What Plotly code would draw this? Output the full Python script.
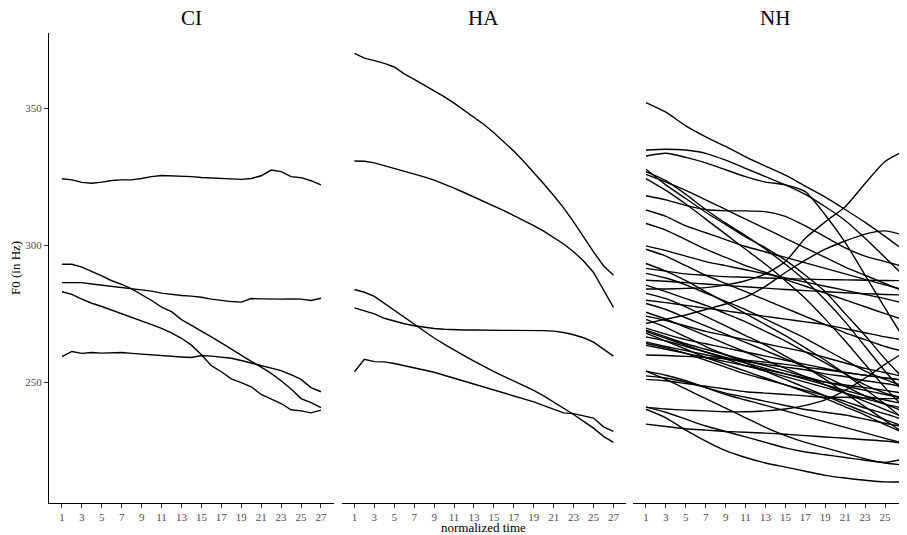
import plotly.graph_objects as go

# ---------------- data ----------------
time_full = list(range(1, 28))
time_odd = list(range(1, 28, 2))
tick_vals = list(range(1, 28, 2))
y_ticks = [250, 300, 350]
panels = ["CI", "HA", "NH"]

ci_lines = [
    [324.2, 323.8, 322.9, 322.6, 323.0, 323.6, 323.8, 323.8, 324.3, 325.0, 325.4, 325.3, 325.2, 325.0,
     324.7, 324.5, 324.3, 324.2, 324.0, 324.3, 325.3, 327.4, 326.8, 325.0, 324.6, 323.5, 322.0],
    [293.0, 293.0, 292.0, 290.5, 288.8, 287.0, 285.7, 284.0, 282.0, 279.8, 277.4, 275.7, 272.8, 270.8,
     268.7, 266.5, 264.3, 262.0, 259.8, 257.6, 255.5, 253.2, 250.5, 247.5, 244.0, 242.5, 240.7],
    [286.3, 286.2, 286.3, 285.8, 285.4, 285.0, 284.6, 284.2, 283.8, 283.2, 282.5, 282.0, 281.6, 281.4,
     281.0, 280.3, 279.8, 279.4, 279.2, 280.5, 280.4, 280.3, 280.3, 280.4, 280.3, 279.8, 280.6],
    [283.0, 282.0, 280.3, 278.8, 277.6, 276.3, 275.0, 273.8, 272.5, 271.0, 269.6, 268.0, 266.0, 263.5,
     260.0, 256.0, 253.8, 251.2, 249.8, 248.3, 245.5, 243.8, 242.2, 239.9, 239.5, 238.8, 239.8],
    [259.3, 261.2, 260.5, 260.8, 260.6, 260.8, 260.8, 260.5, 260.2, 259.9, 259.6, 259.4, 259.2, 259.0,
     259.7, 259.5, 259.2, 258.7, 257.9, 257.0, 256.0, 255.2, 254.2, 252.7, 251.0, 248.0, 246.5],
]

ha_lines = [
    [370.0, 368.2, 367.3, 366.3, 365.0, 362.5, 360.5, 358.5, 356.5, 354.2, 351.8, 349.3, 346.8, 344.0,
     341.0, 337.8, 334.3, 330.5, 326.6, 322.4, 318.1, 313.6, 308.5, 303.0, 297.5, 292.5, 289.0],
    [330.7, 330.6, 330.0, 329.0, 328.0, 327.0, 326.0, 324.9, 323.7, 322.3, 320.8, 319.2, 317.6, 316.0,
     314.3, 312.6, 310.8, 309.0, 307.1, 305.1, 302.9, 300.4, 297.6, 294.2, 290.0, 283.6, 277.3],
    [283.8, 282.8, 281.3, 278.8, 276.3, 273.6, 271.0, 268.5, 266.1, 263.9, 261.7, 259.7, 257.7, 255.7,
     253.8, 252.1, 250.4, 248.8, 247.0, 245.0, 242.8, 240.5, 238.2, 235.7, 233.2, 230.2, 228.0],
    [277.1, 276.0, 274.9, 273.3, 272.2, 271.3, 270.6, 270.0, 269.6, 269.3, 269.1, 269.0, 269.0, 268.9,
     268.9, 268.9, 268.9, 268.9, 268.9, 268.8, 268.6, 268.1, 267.3, 266.2, 264.6, 262.0, 259.5],
    [253.8, 258.3, 257.5, 257.4, 256.8, 256.0, 255.2, 254.6, 253.6, 252.5, 251.4, 250.3, 249.3, 248.2,
     247.1, 246.1, 245.0, 243.9, 242.8, 241.4, 240.0, 238.8, 238.5, 237.8, 236.9, 233.7, 232.0],
]

# NH values read at odd time points 1,3,...,27
nh_lines = [
    [352.0, 348.5, 343.5, 339.5, 336.0, 332.2, 328.8, 325.5, 321.5, 317.5, 313.0, 308.3, 303.2, 297.8],
    [334.7, 335.0, 334.7, 333.5, 331.0, 328.0, 325.0, 322.0, 318.5, 314.0, 309.0, 302.5, 295.5, 288.4],
    [332.5, 333.5, 332.0, 330.0, 327.5, 325.0, 323.0, 322.0, 319.5, 311.0, 301.0, 289.0, 277.0, 265.3],
    [327.7, 322.0, 317.0, 312.0, 307.5, 303.0, 299.0, 294.5, 289.0, 283.0, 275.0, 267.0, 258.5, 250.7],
    [326.8, 323.5, 318.5, 313.0, 308.0, 303.5, 298.5, 293.0, 287.0, 280.0, 272.0, 263.0, 254.0, 245.9],
    [325.8, 323.0, 320.0, 316.5, 313.0, 309.5, 306.0, 302.5, 299.0, 295.5, 292.0, 289.0, 286.0, 283.0],
    [324.3, 320.0, 315.0, 309.5, 304.0, 298.5, 293.0, 287.0, 280.5, 273.0, 265.0, 256.5, 248.0, 240.4],
    [318.0, 316.5, 314.5, 313.0, 312.5, 312.5, 312.2, 310.5, 307.0, 303.0, 299.0, 296.0, 294.0, 292.1],
    [312.8, 310.5, 307.0, 304.5, 302.0, 299.5, 297.5, 295.5, 293.5, 291.5, 289.5, 287.5, 285.5, 283.6],
    [307.9, 305.5, 302.0, 298.5, 295.5, 292.5, 290.0, 287.5, 285.0, 282.5, 280.0, 277.5, 275.0, 272.6],
    [299.7, 298.0, 296.0, 294.0, 292.5, 291.0, 289.5, 288.0, 286.5, 285.0, 283.5, 282.0, 280.5, 278.7],
    [298.5, 296.0, 292.5, 289.0, 286.0, 283.0, 280.0, 277.0, 274.0, 271.0, 268.0, 265.5, 263.0, 261.1],
    [293.3, 290.5, 287.0, 283.0, 279.0, 275.0, 271.0, 267.0, 262.5, 258.0, 253.0, 247.5, 242.0, 236.1],
    [291.5, 290.5, 289.5, 289.0, 288.5, 288.3, 288.0, 287.8, 287.6, 287.4, 287.3, 287.2, 287.1, 287.0],
    [289.7, 288.0, 285.5, 282.5, 279.5, 276.5, 273.0, 269.5, 266.0, 262.0, 258.0, 254.0, 251.0, 248.3],
    [287.2, 286.8, 286.3, 285.8, 285.3, 284.8, 284.3, 283.8, 283.4, 283.0, 282.6, 282.3, 282.0, 281.8],
    [285.4, 283.0, 280.5, 278.0, 275.0, 272.0, 268.5, 265.0, 261.0, 257.0, 253.0, 249.0, 246.0, 244.0],
    [284.0, 284.0, 284.2, 284.5, 285.5, 287.0, 289.5, 294.0, 302.5, 308.5, 314.0, 322.5, 330.5, 334.5],
    [282.4, 280.5, 277.5, 274.0, 270.5, 267.0, 263.5, 259.5, 255.5, 251.0, 246.0, 241.0, 236.0, 231.3],
    [279.9, 279.0, 278.0, 277.0, 276.0, 275.0, 274.0, 273.0, 272.0, 271.0, 269.5, 268.0, 266.5, 265.3],
    [278.7, 276.5, 273.5, 270.5, 267.5, 264.5, 261.5, 258.5, 255.5, 252.0, 248.5, 245.0, 242.0, 239.2],
    [271.4, 273.0, 274.5, 276.5, 278.5, 281.0, 285.0, 290.0, 294.5, 298.5, 301.5, 304.0, 305.2, 303.5],
    [274.1, 272.5, 270.5, 268.5, 267.0, 265.5, 264.0, 262.5, 261.0, 259.0, 257.0, 255.0, 253.5, 251.9],
    [272.9, 270.0, 266.5, 263.0, 260.0, 257.0, 254.0, 251.0, 248.0, 245.0, 242.0, 239.0, 236.3, 233.7],
    [269.7, 267.5, 265.5, 264.0, 262.5, 261.0, 259.5, 258.0, 256.5, 255.0, 253.5, 252.5, 251.5, 250.7],
    [269.0, 266.5, 264.0, 262.0, 260.0, 258.0, 256.0, 254.0, 252.0, 250.0, 248.5, 247.0, 245.5, 244.0],
    [268.5, 266.0, 263.5, 261.0, 258.5, 256.0, 254.0, 252.0, 250.0, 248.0, 246.0, 244.0, 242.0, 240.4],
    [267.9, 265.0, 262.0, 259.0, 256.5, 254.0, 251.5, 249.0, 246.5, 244.0, 241.0, 238.0, 234.5, 231.3],
    [264.7, 263.0, 261.5, 260.0, 258.5, 257.5, 256.5, 255.5, 254.5, 253.0, 252.0, 250.5, 249.5, 248.3],
    [264.1, 262.5, 260.5, 258.0, 255.5, 253.0, 251.0, 249.0, 247.0, 245.0, 243.0, 240.5, 238.5, 236.1],
    [263.4, 262.0, 260.5, 259.0, 257.5, 256.0, 254.5, 253.0, 251.5, 250.0, 249.0, 248.0, 247.0, 245.9],
    [259.9, 259.7, 259.4, 259.0, 258.5, 258.0, 257.3, 256.5, 255.5, 254.5, 253.5, 252.5, 251.5, 250.7],
    [254.0, 252.5, 250.5, 248.0, 245.5, 243.5, 241.5, 239.5, 237.5, 235.5, 233.5, 231.5, 229.5, 227.6],
    [252.3, 251.5, 250.0, 248.0, 246.0, 244.5, 243.0, 241.5, 240.0, 239.0, 238.0, 236.5, 235.0, 233.7],
    [251.0, 250.5, 249.5, 248.5, 247.5, 246.5, 246.0, 245.5, 245.0, 244.5, 244.5, 244.2, 244.0, 244.0],
    [240.8, 240.2, 239.8, 239.5, 239.2, 239.2, 239.5, 240.2, 241.5, 243.5, 247.0, 251.5, 256.5, 261.1],
    [240.1, 237.0, 232.5, 228.5, 225.0, 222.5, 220.5, 219.0, 217.5, 216.0, 215.0, 214.2, 213.6, 213.6],
    [241.0, 239.0, 236.5, 234.0, 232.0, 230.0, 228.0, 226.0, 224.5, 223.5, 222.5, 221.5, 220.7, 222.1],
    [234.7, 233.8, 233.0, 232.5, 232.0, 231.7, 231.4, 231.0, 230.5, 230.0, 229.5, 229.0, 228.5, 227.6],
    [254.0, 251.0, 247.5, 244.0, 240.5, 237.0, 233.5, 230.5, 228.0, 226.0, 224.0, 222.0, 220.5, 219.7],
    [275.5, 273.0, 270.0, 267.0, 264.0, 261.0, 258.0, 255.0, 252.0, 249.0, 246.0, 243.0, 240.0, 237.0],
    [266.5, 265.0, 263.0, 261.0, 259.0, 257.0, 255.0, 253.0, 251.0, 249.0, 247.0, 245.0, 243.5, 242.0],
]

# ---------------- figure ----------------
OFF = 8.0                       # page body margin offset
W, H = 907 - 8, 535 - 8          # figure size, shifted by body margin
FONT = "Liberation Serif"
fig = go.Figure()

line_style = dict(color="black", width=1.4)
for ys in ci_lines:
    fig.add_trace(go.Scatter(x=time_full, y=ys, mode="lines", line=line_style,
                             xaxis="x", yaxis="y", hoverinfo="skip", showlegend=False))
for ys in ha_lines:
    fig.add_trace(go.Scatter(x=time_full, y=ys, mode="lines", line=line_style,
                             xaxis="x2", yaxis="y", hoverinfo="skip", showlegend=False))
for ys in nh_lines:
    fig.add_trace(go.Scatter(x=time_odd, y=ys, mode="lines",
                             line=dict(color="black", width=1.4, shape="spline", smoothing=0.6),
                             xaxis="x3", yaxis="y", hoverinfo="skip", showlegend=False))

unit = 259 / 26.0
pw = 28.6 * unit
starts = [49.0 - OFF, 341.5 - OFF, 633.0 - OFF]
xr = [-0.3, 28.3]


def px_x(v):
    return v / W


def px_y(v):
    return 1 - v / H


def xaxis_cfg(i):
    x0 = starts[i]
    x1 = x0 + pw
    rng = list(xr)
    if x1 > W:
        rng = [xr[0], xr[0] + (W - x0) / unit]
        x1 = W
    return dict(domain=[x0 / W, x1 / W], range=rng, anchor="y", automargin=False,
                showline=True, linecolor="black", linewidth=1.1,
                ticks="outside", ticklen=4, tickcolor="#333333", tickwidth=1,
                tickvals=tick_vals, ticktext=[str(v) for v in tick_vals],
                ticklabeloverflow="allow",
                tickfont=dict(family=FONT, size=11, color="#4D4D4D"),
                showgrid=False, zeroline=False, fixedrange=True)


y_bottom, y_top = 503.0 - OFF, 33.0 - OFF
layout = dict(
    width=W, height=H,
    margin=dict(l=0, r=0, t=0, b=0, pad=0),
    paper_bgcolor="white", plot_bgcolor="white",
    showlegend=False,
    yaxis=dict(domain=[px_y(y_bottom), px_y(y_top)], range=[205.9, 377.4], anchor="x",
               automargin=False,
               showline=True, linecolor="black", linewidth=1.1,
               ticks="outside", ticklen=4, tickcolor="#333333", tickwidth=1,
               tickvals=y_ticks, ticktext=[str(v) for v in y_ticks],
               tickfont=dict(family=FONT, size=11, color="#4D4D4D"),
               showgrid=False, zeroline=False, fixedrange=True),
    xaxis=xaxis_cfg(0), xaxis2=xaxis_cfg(1), xaxis3=xaxis_cfg(2),
)
fig.update_layout(**layout)

annos = []
for i, name in enumerate(panels):
    cx = starts[i] + pw / 2.0
    annos.append(dict(text=name, x=px_x(cx), y=px_y(18 - OFF), xref="paper", yref="paper",
                      xanchor="center", yanchor="middle", showarrow=False,
                      font=dict(family=FONT, size=21, color="black")))
annos.append(dict(text="normalized time", x=px_x((starts[0] + starts[2] + pw) / 2),
                  y=px_y(527 - OFF),
                  xref="paper", yref="paper", xanchor="center", yanchor="middle", showarrow=False,
                  font=dict(family=FONT, size=13, color="black")))
annos.append(dict(text="F0 (in Hz)", x=px_x(15 - OFF), y=px_y(268 - OFF), xref="paper", yref="paper",
                  xanchor="center", yanchor="middle", showarrow=False, textangle=-90,
                  font=dict(family=FONT, size=13, color="black")))
fig.update_layout(annotations=annos)

fig.write_html("out.html", config={"displayModeBar": False})
